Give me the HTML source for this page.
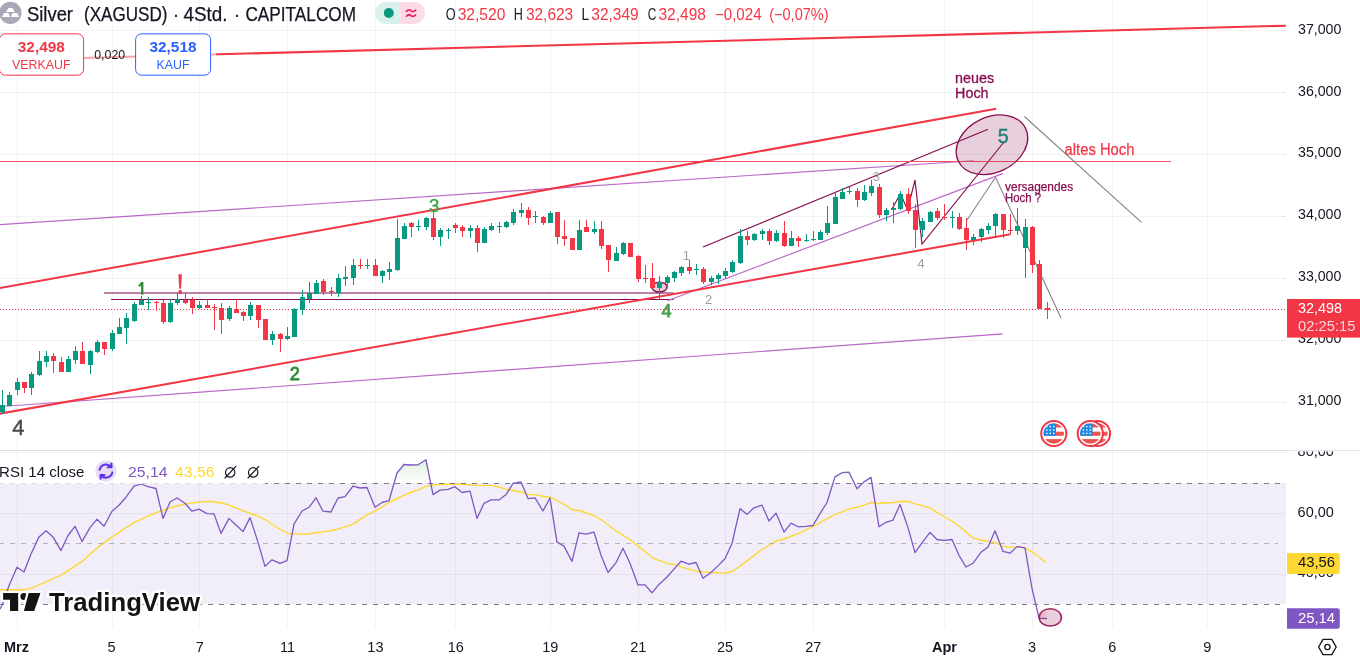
<!DOCTYPE html>
<html><head><meta charset="utf-8"><title>Silver (XAGUSD) 4Std.</title>
<style>html,body{margin:0;padding:0;background:#fff;overflow:hidden}body{width:1360px;height:663px;font-family:"Liberation Sans",sans-serif}svg{display:block;will-change:transform}text{font-family:"Liberation Sans",sans-serif}</style>
</head><body>
<svg width="1360" height="663" viewBox="0 0 1360 663">
<defs>
<linearGradient id="ob" gradientUnits="userSpaceOnUse" x1="0" y1="452" x2="0" y2="483"><stop offset="0" stop-color="#4caf50" stop-opacity="0.26"/><stop offset="1" stop-color="#4caf50" stop-opacity="0"/></linearGradient>
<linearGradient id="os" gradientUnits="userSpaceOnUse" x1="0" y1="604" x2="0" y2="634"><stop offset="0" stop-color="#f23645" stop-opacity="0"/><stop offset="1" stop-color="#f23645" stop-opacity="0.25"/></linearGradient>
<clipPath id="mainclip"><rect x="0" y="0" width="1286" height="450"/></clipPath>
<clipPath id="rsiclip"><rect x="0" y="451" width="1286" height="179"/></clipPath>
<clipPath id="rsiaxis"><rect x="1286" y="451.4" width="74" height="179"/></clipPath>
<clipPath id="above70"><rect x="0" y="451" width="1286" height="32"/></clipPath>
<clipPath id="below30"><rect x="0" y="604" width="1286" height="26"/></clipPath>
<clipPath id="flagc"><circle cx="0" cy="0" r="10.2"/></clipPath>
<g id="flag"><circle cx="0" cy="0" r="12.6" fill="#fff" stroke="#f23645" stroke-width="2"/><g clip-path="url(#flagc)"><rect x="-11" y="-11" width="22" height="22" fill="#fff"/><rect x="-11" y="-10.2" width="22" height="4.2" fill="#ef5350"/><rect x="-11" y="-1.8" width="22" height="4.1" fill="#ef5350"/><rect x="-11" y="5.6" width="22" height="5" fill="#ef5350"/><rect x="-11" y="-10.2" width="13.2" height="12.5" fill="#1e88e5"/><rect x="-7.6" y="-7.6" width="1.4" height="1.4" fill="#fff"/><rect x="-7.6" y="-4.2" width="1.4" height="1.4" fill="#fff"/><rect x="-7.6" y="-0.8" width="1.4" height="1.4" fill="#fff"/><rect x="-4.2" y="-7.6" width="1.4" height="1.4" fill="#fff"/><rect x="-4.2" y="-4.2" width="1.4" height="1.4" fill="#fff"/><rect x="-4.2" y="-0.8" width="1.4" height="1.4" fill="#fff"/><rect x="-0.8" y="-7.6" width="1.4" height="1.4" fill="#fff"/><rect x="-0.8" y="-4.2" width="1.4" height="1.4" fill="#fff"/><rect x="-0.8" y="-0.8" width="1.4" height="1.4" fill="#fff"/></g></g>
</defs>
<rect width="1360" height="663" fill="#fff"/>
<g shape-rendering="crispEdges" fill="#2a2e39" fill-opacity="0.06">
<rect x="17" y="0" width="1" height="450"/>
<rect x="17" y="451" width="1" height="178"/>
<rect x="112" y="0" width="1" height="450"/>
<rect x="112" y="451" width="1" height="178"/>
<rect x="199" y="0" width="1" height="450"/>
<rect x="199" y="451" width="1" height="178"/>
<rect x="287" y="0" width="1" height="450"/>
<rect x="287" y="451" width="1" height="178"/>
<rect x="375" y="0" width="1" height="450"/>
<rect x="375" y="451" width="1" height="178"/>
<rect x="455" y="0" width="1" height="450"/>
<rect x="455" y="451" width="1" height="178"/>
<rect x="550" y="0" width="1" height="450"/>
<rect x="550" y="451" width="1" height="178"/>
<rect x="638" y="0" width="1" height="450"/>
<rect x="638" y="451" width="1" height="178"/>
<rect x="725" y="0" width="1" height="450"/>
<rect x="725" y="451" width="1" height="178"/>
<rect x="813" y="0" width="1" height="450"/>
<rect x="813" y="451" width="1" height="178"/>
<rect x="944" y="0" width="1" height="450"/>
<rect x="944" y="451" width="1" height="178"/>
<rect x="1032" y="0" width="1" height="450"/>
<rect x="1032" y="451" width="1" height="178"/>
<rect x="1112" y="0" width="1" height="450"/>
<rect x="1112" y="451" width="1" height="178"/>
<rect x="1207" y="0" width="1" height="450"/>
<rect x="1207" y="451" width="1" height="178"/>
<rect x="0" y="30" width="1286" height="1"/>
<rect x="0" y="92" width="1286" height="1"/>
<rect x="0" y="154" width="1286" height="1"/>
<rect x="0" y="216" width="1286" height="1"/>
<rect x="0" y="278" width="1286" height="1"/>
<rect x="0" y="340" width="1286" height="1"/>
<rect x="0" y="402" width="1286" height="1"/>
<rect x="0" y="452" width="1286" height="1"/>
<rect x="0" y="513" width="1286" height="1"/>
<rect x="0" y="574" width="1286" height="1"/>
</g>
<g clip-path="url(#mainclip)">
<line x1="0" y1="309.5" x2="1286" y2="309.5" stroke="#f23645" stroke-width="1" stroke-dasharray="1 2" shape-rendering="crispEdges"/>
<line x1="104" y1="293" x2="673.6" y2="293" stroke="#bf80a8" stroke-width="2"/>
<line x1="111" y1="299.5" x2="673.6" y2="299.5" stroke="#880e4f" stroke-width="1.2"/>
<line x1="0" y1="224.6" x2="973.6" y2="160.8" stroke="#ba68c8" stroke-width="1.15"/>
<line x1="5.3" y1="406.3" x2="1002.7" y2="333.9" stroke="#ba68c8" stroke-width="1.15"/>
<line x1="667.5" y1="300.7" x2="1002.6" y2="173.6" stroke="#ba68c8" stroke-width="1.15"/>
<line x1="703" y1="247" x2="988" y2="129.2" stroke="#880e4f" stroke-width="1.15"/>
<polyline points="892,209 900.5,193.5 907.5,210 915,180 922,244 1004.4,141.5" fill="none" stroke="#880e4f" stroke-width="1.15" stroke-linejoin="miter"/>
<line x1="0" y1="161.5" x2="1171" y2="161.5" stroke="#f7525f" stroke-width="1"/>
<line x1="-2" y1="60.23" x2="1285.9" y2="25.7" stroke="#f23645" stroke-width="2.05"/>
<line x1="-2" y1="288.4" x2="996.2" y2="108.7" stroke="#f23645" stroke-width="2.05"/>
<line x1="-2" y1="414" x2="1010.5" y2="234.2" stroke="#f23645" stroke-width="2.05"/>
<polyline points="966.9,220.2 995.5,177.3 1061,318" fill="none" stroke="#868686" stroke-width="1.15"/>
<line x1="1024.4" y1="116.5" x2="1141.5" y2="222.4" stroke="#868686" stroke-width="1.15"/>
<ellipse cx="991.95" cy="144.8" rx="37.4" ry="27.65" transform="rotate(-26 991.95 144.8)" fill="#880e4f" fill-opacity="0.2" stroke="#880e4f" stroke-width="1.3"/>
<ellipse cx="659.4" cy="287.1" rx="7.7" ry="4.9" fill="#880e4f" fill-opacity="0.2" stroke="#880e4f" stroke-width="1.4"/>
<g shape-rendering="crispEdges">
<rect x="2" y="390" width="1" height="24" fill="#089981"/><rect x="0" y="405" width="5" height="7" fill="#089981"/>
<rect x="9" y="392" width="1" height="14" fill="#089981"/><rect x="7" y="395" width="5" height="11" fill="#089981"/>
<rect x="17" y="378" width="1" height="17" fill="#089981"/><rect x="15" y="382" width="5" height="8" fill="#089981"/>
<rect x="24" y="382" width="1" height="11" fill="#f23645"/><rect x="22" y="382" width="5" height="6" fill="#f23645"/>
<rect x="31" y="372" width="1" height="23" fill="#089981"/><rect x="29" y="374" width="5" height="14" fill="#089981"/>
<rect x="39" y="351" width="1" height="25" fill="#089981"/><rect x="37" y="361" width="5" height="14" fill="#089981"/>
<rect x="46" y="351" width="1" height="16" fill="#089981"/><rect x="44" y="356" width="5" height="6" fill="#089981"/>
<rect x="53" y="353" width="1" height="20" fill="#f23645"/><rect x="51" y="356" width="5" height="5" fill="#f23645"/>
<rect x="61" y="357" width="1" height="15" fill="#f23645"/><rect x="59" y="362" width="5" height="10" fill="#f23645"/>
<rect x="68" y="356" width="1" height="16" fill="#089981"/><rect x="66" y="359" width="5" height="13" fill="#089981"/>
<rect x="75" y="346" width="1" height="18" fill="#089981"/><rect x="73" y="351" width="5" height="9" fill="#089981"/>
<rect x="82" y="342" width="1" height="22" fill="#f23645"/><rect x="80" y="351" width="5" height="13" fill="#f23645"/>
<rect x="90" y="350" width="1" height="24" fill="#089981"/><rect x="88" y="351" width="5" height="14" fill="#089981"/>
<rect x="97" y="340" width="1" height="13" fill="#089981"/><rect x="95" y="342" width="5" height="10" fill="#089981"/>
<rect x="104" y="342" width="1" height="13" fill="#f23645"/><rect x="102" y="342" width="5" height="7" fill="#f23645"/>
<rect x="112" y="330" width="1" height="21" fill="#089981"/><rect x="110" y="333" width="5" height="16" fill="#089981"/>
<rect x="119" y="318" width="1" height="16" fill="#089981"/><rect x="117" y="327" width="5" height="7" fill="#089981"/>
<rect x="126" y="313" width="1" height="31" fill="#089981"/><rect x="124" y="318" width="5" height="10" fill="#089981"/>
<rect x="134" y="302" width="1" height="20" fill="#089981"/><rect x="132" y="304" width="5" height="17" fill="#089981"/>
<rect x="141" y="296" width="1" height="9" fill="#089981"/><rect x="139" y="300" width="5" height="5" fill="#089981"/>
<rect x="148" y="297" width="1" height="13" fill="#089981"/><rect x="146" y="302" width="5" height="1" fill="#089981"/>
<rect x="156" y="301" width="1" height="10" fill="#f23645"/><rect x="154" y="302" width="5" height="1" fill="#f23645"/>
<rect x="163" y="300" width="1" height="24" fill="#f23645"/><rect x="161" y="303" width="5" height="19" fill="#f23645"/>
<rect x="170" y="299" width="1" height="24" fill="#089981"/><rect x="168" y="303" width="5" height="19" fill="#089981"/>
<rect x="177" y="293" width="1" height="12" fill="#089981"/><rect x="175" y="299" width="5" height="4" fill="#089981"/>
<rect x="185" y="293" width="1" height="11" fill="#f23645"/><rect x="183" y="300" width="5" height="3" fill="#f23645"/>
<rect x="192" y="297" width="1" height="17" fill="#f23645"/><rect x="190" y="300" width="5" height="8" fill="#f23645"/>
<rect x="199" y="301" width="1" height="8" fill="#089981"/><rect x="197" y="305" width="5" height="3" fill="#089981"/>
<rect x="207" y="299" width="1" height="9" fill="#f23645"/><rect x="205" y="305" width="5" height="3" fill="#f23645"/>
<rect x="214" y="304" width="1" height="26" fill="#f23645"/><rect x="212" y="307" width="5" height="1" fill="#f23645"/>
<rect x="221" y="303" width="1" height="31" fill="#f23645"/><rect x="219" y="308" width="5" height="12" fill="#f23645"/>
<rect x="229" y="306" width="1" height="15" fill="#089981"/><rect x="227" y="308" width="5" height="11" fill="#089981"/>
<rect x="236" y="299" width="1" height="14" fill="#f23645"/><rect x="234" y="309" width="5" height="4" fill="#f23645"/>
<rect x="243" y="311" width="1" height="10" fill="#f23645"/><rect x="241" y="312" width="5" height="4" fill="#f23645"/>
<rect x="250" y="302" width="1" height="18" fill="#089981"/><rect x="248" y="305" width="5" height="11" fill="#089981"/>
<rect x="258" y="305" width="1" height="23" fill="#f23645"/><rect x="256" y="305" width="5" height="15" fill="#f23645"/>
<rect x="265" y="319" width="1" height="21" fill="#f23645"/><rect x="263" y="319" width="5" height="21" fill="#f23645"/>
<rect x="272" y="331" width="1" height="14" fill="#089981"/><rect x="270" y="334" width="5" height="6" fill="#089981"/>
<rect x="280" y="333" width="1" height="19" fill="#f23645"/><rect x="278" y="334" width="5" height="5" fill="#f23645"/>
<rect x="287" y="327" width="1" height="13" fill="#089981"/><rect x="285" y="336" width="5" height="3" fill="#089981"/>
<rect x="294" y="308" width="1" height="29" fill="#089981"/><rect x="292" y="309" width="5" height="28" fill="#089981"/>
<rect x="302" y="290" width="1" height="25" fill="#089981"/><rect x="300" y="297" width="5" height="13" fill="#089981"/>
<rect x="309" y="282" width="1" height="21" fill="#089981"/><rect x="307" y="293" width="5" height="6" fill="#089981"/>
<rect x="316" y="280" width="1" height="14" fill="#089981"/><rect x="314" y="283" width="5" height="11" fill="#089981"/>
<rect x="323" y="279" width="1" height="16" fill="#f23645"/><rect x="321" y="281" width="5" height="11" fill="#f23645"/>
<rect x="331" y="287" width="1" height="9" fill="#f23645"/><rect x="329" y="291" width="5" height="1" fill="#f23645"/>
<rect x="338" y="274" width="1" height="23" fill="#089981"/><rect x="336" y="278" width="5" height="15" fill="#089981"/>
<rect x="345" y="266" width="1" height="20" fill="#089981"/><rect x="343" y="277" width="5" height="2" fill="#089981"/>
<rect x="353" y="259" width="1" height="26" fill="#089981"/><rect x="351" y="265" width="5" height="13" fill="#089981"/>
<rect x="360" y="259" width="1" height="10" fill="#f23645"/><rect x="358" y="265" width="5" height="1" fill="#f23645"/>
<rect x="367" y="259" width="1" height="10" fill="#089981"/><rect x="365" y="265" width="5" height="1" fill="#089981"/>
<rect x="375" y="259" width="1" height="17" fill="#f23645"/><rect x="373" y="265" width="5" height="11" fill="#f23645"/>
<rect x="382" y="270" width="1" height="13" fill="#089981"/><rect x="380" y="271" width="5" height="5" fill="#089981"/>
<rect x="389" y="262" width="1" height="18" fill="#089981"/><rect x="387" y="269" width="5" height="3" fill="#089981"/>
<rect x="397" y="219" width="1" height="52" fill="#089981"/><rect x="395" y="238" width="5" height="32" fill="#089981"/>
<rect x="404" y="223" width="1" height="16" fill="#089981"/><rect x="402" y="226" width="5" height="13" fill="#089981"/>
<rect x="411" y="222" width="1" height="15" fill="#f23645"/><rect x="409" y="223" width="5" height="4" fill="#f23645"/>
<rect x="418" y="220" width="1" height="11" fill="#089981"/><rect x="416" y="226" width="5" height="1" fill="#089981"/>
<rect x="426" y="217" width="1" height="13" fill="#089981"/><rect x="424" y="218" width="5" height="9" fill="#089981"/>
<rect x="433" y="212" width="1" height="28" fill="#f23645"/><rect x="431" y="218" width="5" height="19" fill="#f23645"/>
<rect x="440" y="228" width="1" height="18" fill="#089981"/><rect x="438" y="230" width="5" height="7" fill="#089981"/>
<rect x="448" y="228" width="1" height="11" fill="#089981"/><rect x="446" y="230" width="5" height="1" fill="#089981"/>
<rect x="455" y="223" width="1" height="10" fill="#f23645"/><rect x="453" y="225" width="5" height="3" fill="#f23645"/>
<rect x="462" y="225" width="1" height="12" fill="#f23645"/><rect x="460" y="227" width="5" height="4" fill="#f23645"/>
<rect x="470" y="225" width="1" height="13" fill="#089981"/><rect x="468" y="228" width="5" height="3" fill="#089981"/>
<rect x="477" y="225" width="1" height="27" fill="#f23645"/><rect x="475" y="228" width="5" height="15" fill="#f23645"/>
<rect x="484" y="227" width="1" height="16" fill="#089981"/><rect x="482" y="229" width="5" height="14" fill="#089981"/>
<rect x="491" y="223" width="1" height="8" fill="#089981"/><rect x="489" y="226" width="5" height="4" fill="#089981"/>
<rect x="499" y="222" width="1" height="11" fill="#089981"/><rect x="497" y="226" width="5" height="1" fill="#089981"/>
<rect x="506" y="221" width="1" height="7" fill="#089981"/><rect x="504" y="222" width="5" height="5" fill="#089981"/>
<rect x="513" y="209" width="1" height="16" fill="#089981"/><rect x="511" y="212" width="5" height="11" fill="#089981"/>
<rect x="521" y="203" width="1" height="14" fill="#089981"/><rect x="519" y="210" width="5" height="3" fill="#089981"/>
<rect x="528" y="207" width="1" height="18" fill="#f23645"/><rect x="526" y="210" width="5" height="8" fill="#f23645"/>
<rect x="535" y="211" width="1" height="12" fill="#089981"/><rect x="533" y="216" width="5" height="1" fill="#089981"/>
<rect x="543" y="216" width="1" height="9" fill="#f23645"/><rect x="541" y="217" width="5" height="6" fill="#f23645"/>
<rect x="550" y="211" width="1" height="12" fill="#089981"/><rect x="548" y="213" width="5" height="10" fill="#089981"/>
<rect x="557" y="212" width="1" height="32" fill="#f23645"/><rect x="555" y="212" width="5" height="25" fill="#f23645"/>
<rect x="564" y="220" width="1" height="26" fill="#f23645"/><rect x="562" y="236" width="5" height="3" fill="#f23645"/>
<rect x="572" y="238" width="1" height="12" fill="#f23645"/><rect x="570" y="238" width="5" height="12" fill="#f23645"/>
<rect x="579" y="220" width="1" height="30" fill="#089981"/><rect x="577" y="230" width="5" height="20" fill="#089981"/>
<rect x="586" y="220" width="1" height="12" fill="#f23645"/><rect x="584" y="227" width="5" height="5" fill="#f23645"/>
<rect x="594" y="221" width="1" height="13" fill="#089981"/><rect x="592" y="229" width="5" height="3" fill="#089981"/>
<rect x="601" y="221" width="1" height="28" fill="#f23645"/><rect x="599" y="229" width="5" height="17" fill="#f23645"/>
<rect x="608" y="245" width="1" height="27" fill="#f23645"/><rect x="606" y="245" width="5" height="15" fill="#f23645"/>
<rect x="616" y="247" width="1" height="14" fill="#089981"/><rect x="614" y="253" width="5" height="8" fill="#089981"/>
<rect x="623" y="242" width="1" height="13" fill="#089981"/><rect x="621" y="243" width="5" height="11" fill="#089981"/>
<rect x="630" y="243" width="1" height="14" fill="#f23645"/><rect x="628" y="243" width="5" height="14" fill="#f23645"/>
<rect x="638" y="255" width="1" height="27" fill="#f23645"/><rect x="636" y="256" width="5" height="23" fill="#f23645"/>
<rect x="645" y="265" width="1" height="18" fill="#f23645"/><rect x="643" y="278" width="5" height="1" fill="#f23645"/>
<rect x="652" y="263" width="1" height="25" fill="#f23645"/><rect x="650" y="278" width="5" height="10" fill="#f23645"/>
<rect x="659" y="276" width="1" height="23" fill="#089981"/><rect x="657" y="282" width="5" height="6" fill="#089981"/>
<rect x="667" y="275" width="1" height="13" fill="#089981"/><rect x="665" y="277" width="5" height="6" fill="#089981"/>
<rect x="674" y="271" width="1" height="11" fill="#089981"/><rect x="672" y="272" width="5" height="6" fill="#089981"/>
<rect x="681" y="266" width="1" height="10" fill="#089981"/><rect x="679" y="267" width="5" height="6" fill="#089981"/>
<rect x="689" y="260" width="1" height="14" fill="#f23645"/><rect x="687" y="267" width="5" height="4" fill="#f23645"/>
<rect x="696" y="264" width="1" height="11" fill="#089981"/><rect x="694" y="269" width="5" height="1" fill="#089981"/>
<rect x="703" y="267" width="1" height="17" fill="#f23645"/><rect x="701" y="269" width="5" height="13" fill="#f23645"/>
<rect x="711" y="276" width="1" height="9" fill="#089981"/><rect x="709" y="278" width="5" height="4" fill="#089981"/>
<rect x="718" y="273" width="1" height="11" fill="#089981"/><rect x="716" y="275" width="5" height="4" fill="#089981"/>
<rect x="725" y="268" width="1" height="11" fill="#089981"/><rect x="723" y="271" width="5" height="5" fill="#089981"/>
<rect x="732" y="260" width="1" height="13" fill="#089981"/><rect x="730" y="262" width="5" height="10" fill="#089981"/>
<rect x="740" y="229" width="1" height="35" fill="#089981"/><rect x="738" y="236" width="5" height="27" fill="#089981"/>
<rect x="747" y="231" width="1" height="14" fill="#f23645"/><rect x="745" y="236" width="5" height="4" fill="#f23645"/>
<rect x="754" y="233" width="1" height="8" fill="#089981"/><rect x="752" y="234" width="5" height="6" fill="#089981"/>
<rect x="762" y="229" width="1" height="11" fill="#089981"/><rect x="760" y="231" width="5" height="3" fill="#089981"/>
<rect x="769" y="229" width="1" height="16" fill="#f23645"/><rect x="767" y="231" width="5" height="10" fill="#f23645"/>
<rect x="776" y="230" width="1" height="12" fill="#089981"/><rect x="774" y="233" width="5" height="8" fill="#089981"/>
<rect x="784" y="221" width="1" height="26" fill="#f23645"/><rect x="782" y="233" width="5" height="13" fill="#f23645"/>
<rect x="791" y="231" width="1" height="15" fill="#089981"/><rect x="789" y="238" width="5" height="8" fill="#089981"/>
<rect x="798" y="236" width="1" height="11" fill="#f23645"/><rect x="796" y="238" width="5" height="3" fill="#f23645"/>
<rect x="806" y="234" width="1" height="8" fill="#089981"/><rect x="804" y="240" width="5" height="1" fill="#089981"/>
<rect x="813" y="231" width="1" height="10" fill="#089981"/><rect x="811" y="239" width="5" height="1" fill="#089981"/>
<rect x="820" y="230" width="1" height="10" fill="#089981"/><rect x="818" y="232" width="5" height="8" fill="#089981"/>
<rect x="827" y="206" width="1" height="29" fill="#089981"/><rect x="825" y="223" width="5" height="10" fill="#089981"/>
<rect x="835" y="192" width="1" height="32" fill="#089981"/><rect x="833" y="197" width="5" height="27" fill="#089981"/>
<rect x="842" y="188" width="1" height="11" fill="#089981"/><rect x="840" y="192" width="5" height="7" fill="#089981"/>
<rect x="849" y="187" width="1" height="7" fill="#089981"/><rect x="847" y="191" width="5" height="1" fill="#089981"/>
<rect x="857" y="188" width="1" height="19" fill="#f23645"/><rect x="855" y="191" width="5" height="9" fill="#f23645"/>
<rect x="864" y="185" width="1" height="16" fill="#089981"/><rect x="862" y="192" width="5" height="8" fill="#089981"/>
<rect x="871" y="180" width="1" height="16" fill="#089981"/><rect x="869" y="186" width="5" height="7" fill="#089981"/>
<rect x="879" y="184" width="1" height="34" fill="#f23645"/><rect x="877" y="187" width="5" height="28" fill="#f23645"/>
<rect x="886" y="208" width="1" height="13" fill="#089981"/><rect x="884" y="210" width="5" height="5" fill="#089981"/>
<rect x="893" y="202" width="1" height="21" fill="#089981"/><rect x="891" y="208" width="5" height="2" fill="#089981"/>
<rect x="900" y="191" width="1" height="19" fill="#089981"/><rect x="898" y="194" width="5" height="15" fill="#089981"/>
<rect x="908" y="188" width="1" height="26" fill="#f23645"/><rect x="906" y="194" width="5" height="17" fill="#f23645"/>
<rect x="915" y="204" width="1" height="44" fill="#f23645"/><rect x="913" y="210" width="5" height="20" fill="#f23645"/>
<rect x="922" y="218" width="1" height="19" fill="#089981"/><rect x="920" y="221" width="5" height="9" fill="#089981"/>
<rect x="930" y="211" width="1" height="11" fill="#089981"/><rect x="928" y="212" width="5" height="10" fill="#089981"/>
<rect x="937" y="208" width="1" height="12" fill="#f23645"/><rect x="935" y="211" width="5" height="7" fill="#f23645"/>
<rect x="944" y="204" width="1" height="16" fill="#f23645"/><rect x="942" y="217" width="5" height="1" fill="#f23645"/>
<rect x="952" y="211" width="1" height="17" fill="#089981"/><rect x="950" y="217" width="5" height="1" fill="#089981"/>
<rect x="959" y="213" width="1" height="17" fill="#f23645"/><rect x="957" y="217" width="5" height="12" fill="#f23645"/>
<rect x="966" y="218" width="1" height="32" fill="#f23645"/><rect x="964" y="228" width="5" height="12" fill="#f23645"/>
<rect x="973" y="234" width="1" height="11" fill="#089981"/><rect x="971" y="237" width="5" height="3" fill="#089981"/>
<rect x="981" y="228" width="1" height="14" fill="#089981"/><rect x="979" y="229" width="5" height="8" fill="#089981"/>
<rect x="988" y="223" width="1" height="11" fill="#089981"/><rect x="986" y="226" width="5" height="4" fill="#089981"/>
<rect x="995" y="213" width="1" height="25" fill="#089981"/><rect x="993" y="214" width="5" height="12" fill="#089981"/>
<rect x="1003" y="214" width="1" height="24" fill="#f23645"/><rect x="1001" y="214" width="5" height="16" fill="#f23645"/>
<rect x="1010" y="214" width="1" height="20" fill="#f23645"/><rect x="1008" y="230" width="5" height="1" fill="#f23645"/>
<rect x="1017" y="208" width="1" height="27" fill="#089981"/><rect x="1015" y="226" width="5" height="5" fill="#089981"/>
<rect x="1025" y="219" width="1" height="59" fill="#089981"/><rect x="1023" y="227" width="5" height="21" fill="#089981"/>
<rect x="1032" y="226" width="1" height="47" fill="#f23645"/><rect x="1030" y="227" width="5" height="38" fill="#f23645"/>
<rect x="1039" y="260" width="1" height="49" fill="#f23645"/><rect x="1037" y="264" width="5" height="45" fill="#f23645"/>
<rect x="1047" y="302" width="1" height="17" fill="#f23645"/><rect x="1045" y="308" width="5" height="2" fill="#f23645"/>
</g>
<text x="955.1" y="83.3" font-size="14.8" fill="#880e4f" textLength="39" lengthAdjust="spacingAndGlyphs" stroke="#880e4f" stroke-width="0.3">neues</text>
<text x="955.1" y="97.9" font-size="14.8" fill="#880e4f" textLength="33.4" lengthAdjust="spacingAndGlyphs" stroke="#880e4f" stroke-width="0.3">Hoch</text>
<text x="1064.6" y="155.1" font-size="16" fill="#f23645" textLength="69.8" lengthAdjust="spacingAndGlyphs" stroke="#f23645" stroke-width="0.25">altes Hoch</text>
<text x="1005.1" y="190.8" font-size="12.5" fill="#880e4f" textLength="68" lengthAdjust="spacingAndGlyphs" stroke="#880e4f" stroke-width="0.25">versagendes</text>
<text x="1005.1" y="202.3" font-size="12.5" fill="#880e4f" textLength="36" lengthAdjust="spacingAndGlyphs" stroke="#880e4f" stroke-width="0.25">Hoch ?</text>
<text x="1003.2" y="142.8" font-size="19.6" fill="#1a7e78" text-anchor="middle" stroke="#1a7e78" stroke-width="0.4">5</text>
<path d="M141.1 282H143.4V294.8H141.1V285.3L139.5 287.1L138.2 285.7Z" fill="#2e8b34"/>
<text x="294.8" y="379.9" font-size="18.3" fill="#2e8b34" text-anchor="middle" stroke="#2e8b34" stroke-width="0.8">2</text>
<text x="434.2" y="211.5" font-size="18.6" fill="#43a847" text-anchor="middle" stroke="#43a847" stroke-width="0.5">3</text>
<text x="666.6" y="317" font-size="18" fill="#43a047" text-anchor="middle" stroke="#43a047" stroke-width="0.75">4</text>
<path d="M178.4 274.3h3.5l-0.9 14.4h-1.7z" fill="#f23645"/><circle cx="180.15" cy="291.9" r="1.85" fill="#f23645"/>
<text x="686.2" y="260.3" font-size="12.8" fill="#9e9e9e" text-anchor="middle" >1</text>
<text x="708.7" y="303.7" font-size="13" fill="#9e9e9e" text-anchor="middle" >2</text>
<text x="876.4" y="181.3" font-size="12.8" fill="#9e9e9e" text-anchor="middle" >3</text>
<text x="921" y="268" font-size="12.8" fill="#9e9e9e" text-anchor="middle" >4</text>
<text x="18.4" y="434.8" font-size="22" fill="#4a4a4a" text-anchor="middle" stroke="#4a4a4a" stroke-width="0.4">4</text>
<use href="#flag" x="1097.5" y="433.5"/><use href="#flag" x="1090.3" y="433.5"/><use href="#flag" x="1053.8" y="433.5"/>
</g>
<g clip-path="url(#rsiclip)">
<rect x="0" y="483" width="1286" height="121" fill="#7e57c2" fill-opacity="0.1"/>
<polygon points="-3.0,483 -3.0,613.4 2.0,605.5 9.0,585.7 17.0,567.2 24.0,572.0 31.0,554.0 39.0,536.9 46.0,530.8 53.0,536.9 61.0,550.6 68.0,535.5 75.0,526.3 82.0,541.6 90.0,527.6 97.0,519.2 104.0,526.3 112.0,511.2 119.0,505.2 126.0,497.2 134.0,486.2 141.0,484.0 148.0,486.7 156.0,488.5 163.0,518.4 170.0,502.0 177.0,498.0 185.0,503.3 192.0,511.2 199.0,509.1 207.0,513.6 214.0,513.9 221.0,533.4 229.0,518.4 236.0,525.0 243.0,531.6 250.0,517.6 258.0,542.1 265.0,566.4 272.0,559.8 280.0,563.3 287.0,560.6 294.0,524.2 302.0,511.0 309.0,507.3 316.0,497.8 323.0,511.2 331.0,512.0 338.0,498.0 345.0,496.7 353.0,486.2 360.0,488.0 367.0,487.5 375.0,507.3 382.0,502.5 389.0,500.7 397.0,473.0 404.0,464.5 411.0,465.0 418.0,464.8 426.0,459.8 433.0,494.6 440.0,490.1 448.0,489.3 455.0,486.7 462.0,492.5 470.0,491.2 477.0,518.4 484.0,503.3 491.0,499.9 499.0,499.9 506.0,494.6 513.0,483.5 521.0,481.9 528.0,498.6 535.0,497.8 543.0,511.0 550.0,498.0 557.0,542.1 564.0,546.1 572.0,561.4 579.0,532.9 586.0,534.2 594.0,532.1 601.0,555.3 608.0,572.5 616.0,562.7 623.0,548.2 630.0,563.3 638.0,584.9 645.0,584.9 652.0,592.8 659.0,584.4 667.0,577.0 674.0,569.1 681.0,561.2 689.0,564.1 696.0,562.5 703.0,578.3 711.0,572.5 718.0,565.9 725.0,558.8 732.0,543.5 740.0,508.6 747.0,514.4 754.0,507.8 762.0,505.2 769.0,521.0 776.0,513.1 784.0,532.1 791.0,523.1 798.0,526.8 806.0,526.3 813.0,525.5 820.0,513.6 827.0,502.5 835.0,476.9 842.0,472.7 849.0,472.2 857.0,488.8 864.0,481.9 871.0,477.4 879.0,526.8 886.0,522.3 893.0,520.2 900.0,504.4 908.0,527.6 915.0,552.7 922.0,542.9 930.0,532.4 937.0,539.5 944.0,540.3 952.0,539.5 959.0,555.3 966.0,567.0 973.0,563.3 981.0,552.2 988.0,546.9 995.0,530.8 1003.0,551.4 1010.0,553.2 1017.0,546.6 1025.0,547.9 1032.0,588.4 1039.0,618.2 1047.0,618.7 1047.0,483" fill="url(#ob)" clip-path="url(#above70)"/>
<polygon points="1025.0,604 1025.0,547.9 1032.0,588.4 1039.0,618.2 1047.0,618.7 1047.0,604" fill="url(#os)" clip-path="url(#below30)"/>
<polyline points="0.0,589.7 25.1,589.7 32.0,587.8 46.5,581.7 61.3,575.1 83.2,560.6 97.7,547.4 112.2,536.9 134.1,522.3 156.1,512.6 170.6,507.8 185.4,503.9 199.9,502.0 211.2,501.2 221.8,503.3 220.0,502.5 229.0,505.2 243.8,511.0 258.3,516.3 265.7,519.7 272.8,525.0 287.6,533.4 302.1,534.2 309.5,533.7 324.0,531.6 331.2,530.8 338.6,528.9 353.1,524.2 367.9,514.4 375.0,511.2 389.8,502.0 404.3,495.1 411.7,492.0 418.8,489.9 426.2,486.2 433.4,485.1 440.8,484.4 440.0,484.4 455.3,484.0 470.1,484.8 477.2,485.4 491.8,485.4 499.1,487.2 506.5,489.3 521.1,492.0 528.5,494.6 535.6,494.6 543.0,496.5 550.4,497.2 564.9,504.6 572.0,509.7 579.4,510.5 594.2,515.7 601.3,519.7 615.9,530.8 630.7,540.0 637.8,546.1 645.2,551.4 652.6,558.0 659.7,560.6 667.1,563.3 667.1,563.8 674.3,564.3 681.7,567.2 696.2,571.2 703.6,572.0 718.1,572.8 725.5,573.0 732.9,571.2 740.0,565.9 747.4,560.6 761.9,549.5 776.5,540.8 783.8,539.0 798.4,533.4 813.2,526.3 827.7,518.4 835.1,514.4 849.6,508.9 857.0,507.3 864.1,505.2 871.5,502.5 878.9,503.6 886.0,502.8 880.0,503.3 893.5,502.5 900.6,501.2 908.0,501.5 915.4,503.9 929.9,507.8 937.3,512.6 951.8,521.0 959.2,526.3 973.7,538.4 980.9,540.0 995.7,542.7 1002.8,546.1 1010.2,547.4 1017.6,546.6 1024.7,547.9 1032.1,551.9 1039.5,557.2 1046.1,562.7" fill="none" stroke="#fdd835" stroke-width="1.4" stroke-linejoin="round"/>
<line x1="0" y1="483.5" x2="1286" y2="483.5" stroke="#787b86" stroke-width="1" stroke-dasharray="5 6" stroke-dashoffset="1" shape-rendering="crispEdges"/>
<line x1="0" y1="543.5" x2="1278" y2="543.5" stroke="#787b86" stroke-opacity="0.5" stroke-width="1" stroke-dasharray="5 6" stroke-dashoffset="1" shape-rendering="crispEdges"/>
<line x1="0" y1="604.5" x2="1286" y2="604.5" stroke="#787b86" stroke-width="1" stroke-dasharray="5 6" stroke-dashoffset="1" shape-rendering="crispEdges"/>
<polyline points="-3.0,613.4 2.0,605.5 9.0,585.7 17.0,567.2 24.0,572.0 31.0,554.0 39.0,536.9 46.0,530.8 53.0,536.9 61.0,550.6 68.0,535.5 75.0,526.3 82.0,541.6 90.0,527.6 97.0,519.2 104.0,526.3 112.0,511.2 119.0,505.2 126.0,497.2 134.0,486.2 141.0,484.0 148.0,486.7 156.0,488.5 163.0,518.4 170.0,502.0 177.0,498.0 185.0,503.3 192.0,511.2 199.0,509.1 207.0,513.6 214.0,513.9 221.0,533.4 229.0,518.4 236.0,525.0 243.0,531.6 250.0,517.6 258.0,542.1 265.0,566.4 272.0,559.8 280.0,563.3 287.0,560.6 294.0,524.2 302.0,511.0 309.0,507.3 316.0,497.8 323.0,511.2 331.0,512.0 338.0,498.0 345.0,496.7 353.0,486.2 360.0,488.0 367.0,487.5 375.0,507.3 382.0,502.5 389.0,500.7 397.0,473.0 404.0,464.5 411.0,465.0 418.0,464.8 426.0,459.8 433.0,494.6 440.0,490.1 448.0,489.3 455.0,486.7 462.0,492.5 470.0,491.2 477.0,518.4 484.0,503.3 491.0,499.9 499.0,499.9 506.0,494.6 513.0,483.5 521.0,481.9 528.0,498.6 535.0,497.8 543.0,511.0 550.0,498.0 557.0,542.1 564.0,546.1 572.0,561.4 579.0,532.9 586.0,534.2 594.0,532.1 601.0,555.3 608.0,572.5 616.0,562.7 623.0,548.2 630.0,563.3 638.0,584.9 645.0,584.9 652.0,592.8 659.0,584.4 667.0,577.0 674.0,569.1 681.0,561.2 689.0,564.1 696.0,562.5 703.0,578.3 711.0,572.5 718.0,565.9 725.0,558.8 732.0,543.5 740.0,508.6 747.0,514.4 754.0,507.8 762.0,505.2 769.0,521.0 776.0,513.1 784.0,532.1 791.0,523.1 798.0,526.8 806.0,526.3 813.0,525.5 820.0,513.6 827.0,502.5 835.0,476.9 842.0,472.7 849.0,472.2 857.0,488.8 864.0,481.9 871.0,477.4 879.0,526.8 886.0,522.3 893.0,520.2 900.0,504.4 908.0,527.6 915.0,552.7 922.0,542.9 930.0,532.4 937.0,539.5 944.0,540.3 952.0,539.5 959.0,555.3 966.0,567.0 973.0,563.3 981.0,552.2 988.0,546.9 995.0,530.8 1003.0,551.4 1010.0,553.2 1017.0,546.6 1025.0,547.9 1032.0,588.4 1039.0,618.2 1047.0,618.7" fill="none" stroke="#7e57c2" stroke-width="1.3" stroke-linejoin="round"/>
<ellipse cx="1050.3" cy="617.4" rx="11.1" ry="8.7" fill="#880e4f" fill-opacity="0.2" stroke="#a02060" stroke-width="1.5"/>
</g>
<rect x="0" y="460" width="265" height="24" fill="#fff" fill-opacity="0.75"/>
<text x="-1" y="477" font-size="15" fill="#131722" textLength="85.5" lengthAdjust="spacingAndGlyphs" >RSI 14 close</text>
<circle cx="106" cy="471.1" r="10.6" fill="#e6dcf8"/>
<g transform="translate(106 471.1) scale(1.18) translate(-106 -471.3)" fill="none" stroke="#5b2ff0" stroke-width="1.75" stroke-linecap="round" stroke-linejoin="round"><path d="M100.6 470.2a5.6 5.6 0 0 1 9.6-2.6"/><path d="M111.4 472.4a5.6 5.6 0 0 1-9.6 2.6"/><path d="M110.6 464.8v3.2h-3.2" /><path d="M101.4 477.8v-3.2h3.2"/></g>
<text x="128" y="477.1" font-size="15.5" fill="#7e57c2" textLength="39.5" lengthAdjust="spacingAndGlyphs" >25,14</text>
<text x="175" y="477.1" font-size="15.5" fill="#fdd835" textLength="39.5" lengthAdjust="spacingAndGlyphs" >43,56</text>
<g fill="none" stroke="#131722" stroke-width="1.15" stroke-linecap="round"><circle cx="230.2" cy="472.4" r="4.7"/><path d="M225 478l10.8-11.6"/><circle cx="253.2" cy="472.4" r="4.7"/><path d="M248 478l10.8-11.6"/></g>
<circle cx="10.4" cy="12.9" r="11.1" fill="#a9a7b8"/>
<g fill="#fff"><path d="M8.4 8.1h4l2.5 3.8h-9z"/><path d="M4.1 13.1h4.3l1.8 3.9h-8.4z"/><path d="M12.4 13.1h4.6l2.2 3.9h-8.3z"/></g>
<text x="27" y="20.7" font-size="19.5" fill="#131722" textLength="46" lengthAdjust="spacingAndGlyphs" stroke="#131722" stroke-width="0.25">Silver</text>
<text x="84" y="20.7" font-size="19.5" fill="#131722" textLength="83.4" lengthAdjust="spacingAndGlyphs" stroke="#131722" stroke-width="0.25">(XAGUSD)</text>
<text x="176" y="20.7" font-size="19.5" fill="#131722" text-anchor="middle" >·</text>
<text x="183.5" y="20.7" font-size="19.5" fill="#131722" textLength="44" lengthAdjust="spacingAndGlyphs" stroke="#131722" stroke-width="0.25">4Std.</text>
<text x="237" y="20.7" font-size="19.5" fill="#131722" text-anchor="middle" >·</text>
<text x="245.4" y="20.7" font-size="19.5" fill="#131722" textLength="110.7" lengthAdjust="spacingAndGlyphs" stroke="#131722" stroke-width="0.25">CAPITALCOM</text>
<path d="M386 2h14v22h-14a11 11 0 0 1 0-22z" fill="#daf0ec"/><path d="M400 2h14a11 11 0 0 1 0 22h-14z" fill="#fbdbe6"/>
<circle cx="388.8" cy="13" r="5" fill="#089981"/>
<g fill="none" stroke="#e91e63" stroke-width="1.7" stroke-linecap="round"><path d="M406.4 11.4c1.6-1.8 3.2-1.8 4.6-0.6s3 1.2 4.6-0.6"/><path d="M406.4 16.2c1.6-1.8 3.2-1.8 4.6-0.6s3 1.2 4.6-0.6"/></g>
<text x="445.7" y="19.7" font-size="16" fill="#131722" textLength="9.9" lengthAdjust="spacingAndGlyphs" >O</text>
<text x="457.7" y="19.7" font-size="16" fill="#f23645" textLength="47.7" lengthAdjust="spacingAndGlyphs" >32,520</text>
<text x="513.8" y="19.7" font-size="16" fill="#131722" textLength="9.1" lengthAdjust="spacingAndGlyphs" >H</text>
<text x="525.9" y="19.7" font-size="16" fill="#f23645" textLength="47.3" lengthAdjust="spacingAndGlyphs" >32,623</text>
<text x="581.6" y="19.7" font-size="16" fill="#131722" textLength="7.6" lengthAdjust="spacingAndGlyphs" >L</text>
<text x="591.3" y="19.7" font-size="16" fill="#f23645" textLength="47.3" lengthAdjust="spacingAndGlyphs" >32,349</text>
<text x="647.7" y="19.7" font-size="16" fill="#131722" textLength="8.6" lengthAdjust="spacingAndGlyphs" >C</text>
<text x="658.5" y="19.7" font-size="16" fill="#f23645" textLength="47.4" lengthAdjust="spacingAndGlyphs" >32,498</text>
<text x="714.9" y="19.7" font-size="16" fill="#f23645" textLength="46.7" lengthAdjust="spacingAndGlyphs" >−0,024</text>
<text x="769.2" y="19.7" font-size="16" fill="#f23645" textLength="59.4" lengthAdjust="spacingAndGlyphs" >(−0,07%)</text>
<rect x="-0.6" y="33.8" width="84.2" height="41.4" rx="6" fill="#fff" stroke="#f23645" stroke-width="1"/>
<rect x="135.6" y="33.8" width="75" height="41.4" rx="6" fill="#fff" stroke="#2962ff" stroke-width="1"/>
<line x1="84" y1="57.8" x2="135" y2="56.4" stroke="#fff" stroke-opacity="0.55" stroke-width="4"/>
<text x="41.3" y="51.6" font-size="14.4" fill="#f23645" font-weight="bold" text-anchor="middle" textLength="47" lengthAdjust="spacingAndGlyphs" >32,498</text>
<text x="41.3" y="68.8" font-size="13.5" fill="#f23645" text-anchor="middle" textLength="58.5" lengthAdjust="spacingAndGlyphs" >VERKAUF</text>
<text x="173" y="51.6" font-size="14.4" fill="#2962ff" font-weight="bold" text-anchor="middle" textLength="47" lengthAdjust="spacingAndGlyphs" >32,518</text>
<text x="173" y="68.8" font-size="13.5" fill="#2962ff" text-anchor="middle" textLength="33" lengthAdjust="spacingAndGlyphs" >KAUF</text>
<line x1="211" y1="54.5" x2="216" y2="54.4" stroke="#fff" stroke-opacity="0.55" stroke-width="4"/>
<text x="94.2" y="59.2" font-size="12.5" fill="#131722" textLength="31" lengthAdjust="spacingAndGlyphs" >0,020</text>
<rect x="1286" y="0" width="74" height="663" fill="#fff"/>
<rect x="0" y="450" width="1360" height="1" fill="#e0e3eb" shape-rendering="crispEdges"/>
<g shape-rendering="crispEdges" fill="#2a2e39" fill-opacity="0.06">
<rect x="1281" y="30" width="5" height="1"/>
<rect x="1281" y="92" width="5" height="1"/>
<rect x="1281" y="154" width="5" height="1"/>
<rect x="1281" y="216" width="5" height="1"/>
<rect x="1281" y="278" width="5" height="1"/>
<rect x="1281" y="340" width="5" height="1"/>
<rect x="1281" y="402" width="5" height="1"/>
</g>
<text x="1298" y="33.9" font-size="14.4" fill="#131722" textLength="43.4" lengthAdjust="spacingAndGlyphs" >37,000</text>
<text x="1298" y="96.2" font-size="14.4" fill="#131722" textLength="43.4" lengthAdjust="spacingAndGlyphs" >36,000</text>
<text x="1298" y="157.0" font-size="14.4" fill="#131722" textLength="43.4" lengthAdjust="spacingAndGlyphs" >35,000</text>
<text x="1298" y="219.2" font-size="14.4" fill="#131722" textLength="43.4" lengthAdjust="spacingAndGlyphs" >34,000</text>
<text x="1298" y="280.9" font-size="14.4" fill="#131722" textLength="43.4" lengthAdjust="spacingAndGlyphs" >33,000</text>
<text x="1298" y="343.3" font-size="14.4" fill="#131722" textLength="43.4" lengthAdjust="spacingAndGlyphs" >32,000</text>
<text x="1298" y="405.2" font-size="14.4" fill="#131722" textLength="43.4" lengthAdjust="spacingAndGlyphs" >31,000</text>
<rect x="1287" y="299" width="74" height="38.6" fill="#f23645"/>
<text x="1298.1" y="313.2" font-size="14.4" fill="#fff" textLength="44" lengthAdjust="spacingAndGlyphs" >32,498</text>
<text x="1298.1" y="331.1" font-size="14.4" fill="#fff" textLength="57.3" lengthAdjust="spacingAndGlyphs" fill-opacity="0.8">02:25:15</text>
<g clip-path="url(#rsiaxis)">
<text x="1297.6" y="456.2" font-size="14.4" fill="#131722" textLength="36.3" lengthAdjust="spacingAndGlyphs" >80,00</text>
<text x="1297.6" y="516.5" font-size="14.4" fill="#131722" textLength="36.3" lengthAdjust="spacingAndGlyphs" >60,00</text>
<text x="1297.6" y="577" font-size="14.4" fill="#131722" textLength="36.3" lengthAdjust="spacingAndGlyphs" >40,00</text>
</g>
<path d="M1287 553h50.3a2.5 2.5 0 0 1 2.5 2.5v16a2.5 2.5 0 0 1-2.5 2.5h-50.3z" fill="#fdd835"/>
<text x="1297.9" y="567.4" font-size="14.4" fill="#131722" textLength="37.2" lengthAdjust="spacingAndGlyphs" >43,56</text>
<path d="M1287 608.2h50.3a2.5 2.5 0 0 1 2.5 2.5v15.5a2.5 2.5 0 0 1-2.5 2.5h-50.3z" fill="#7e57c2"/>
<text x="1297.9" y="622.7" font-size="14.4" fill="#fff" textLength="37.2" lengthAdjust="spacingAndGlyphs" >25,14</text>
<text x="16.4" y="651.8" font-size="14.5" fill="#131722" font-weight="bold" text-anchor="middle" >Mrz</text>
<text x="111.6" y="651.8" font-size="14.5" fill="#131722" text-anchor="middle" >5</text>
<text x="199.9" y="651.8" font-size="14.5" fill="#131722" text-anchor="middle" >7</text>
<text x="287.5" y="651.8" font-size="14.5" fill="#131722" text-anchor="middle" >11</text>
<text x="375.4" y="651.8" font-size="14.5" fill="#131722" text-anchor="middle" >13</text>
<text x="455.8" y="651.8" font-size="14.5" fill="#131722" text-anchor="middle" >16</text>
<text x="550.2" y="651.8" font-size="14.5" fill="#131722" text-anchor="middle" >19</text>
<text x="638.2" y="651.8" font-size="14.5" fill="#131722" text-anchor="middle" >21</text>
<text x="725.1" y="651.8" font-size="14.5" fill="#131722" text-anchor="middle" >25</text>
<text x="813.3" y="651.8" font-size="14.5" fill="#131722" text-anchor="middle" >27</text>
<text x="944.5" y="651.8" font-size="14.5" fill="#131722" font-weight="bold" text-anchor="middle" >Apr</text>
<text x="1032.0" y="651.8" font-size="14.5" fill="#131722" text-anchor="middle" >3</text>
<text x="1112.3" y="651.8" font-size="14.5" fill="#131722" text-anchor="middle" >6</text>
<text x="1207.2" y="651.8" font-size="14.5" fill="#131722" text-anchor="middle" >9</text>
<g fill="none" stroke="#131722" stroke-width="1.35" stroke-linejoin="round"><path d="M1318.6 647l4.4-7.6h8.8l4.4 7.6-4.4 7.6h-8.8z"/><circle cx="1327.4" cy="647" r="2.6"/></g>
<g stroke="#fff" stroke-width="4.4" stroke-linejoin="round" fill="#141414" paint-order="stroke">
<path d="M3.1 593.1h15.1v17.8h-8.2v-11.2h-6.9z"/>
<circle cx="23.9" cy="596.6" r="3.5"/>
<path d="M28.7 593.1h11.8l-6.3 17.8h-10.3z"/>
<text x="49" y="610.9" font-size="25" font-weight="bold" textLength="151" lengthAdjust="spacingAndGlyphs">TradingView</text>
</g>
</svg></body></html>
